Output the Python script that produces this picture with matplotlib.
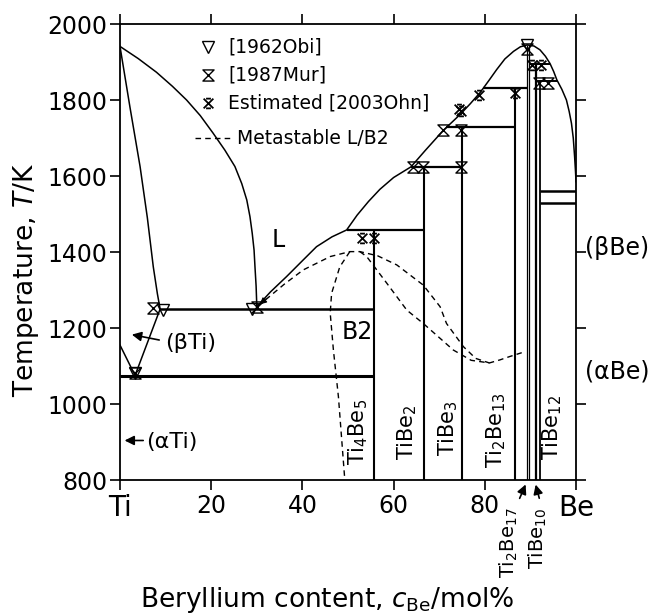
import numpy as np
import matplotlib.pyplot as plt
from matplotlib.path import Path

plt.rcParams['font.family'] = ['DejaVu Sans']
plt.rcParams['mathtext.fontset'] = 'dejavusans'

# stable phase boundaries, x = mol% Be, T = K
liq_ti_x = [0, 4.0, 8.0, 11.5, 14.6, 17.6, 20.4, 23.0, 25.2, 26.7, 27.8, 28.5, 29.0, 29.4, 29.6, 29.85, 30.0]
liq_ti_T = [1941, 1909, 1873, 1836, 1800, 1759, 1713, 1668, 1625, 1580, 1537, 1493, 1449, 1405, 1361, 1310, 1258]

sol_ti_x = [0, 2.2, 4.4, 6.0, 7.3, 8.2, 8.8]
sol_ti_T = [1941, 1780, 1625, 1490, 1361, 1290, 1250]

solvus_ti_x = [8.8, 3.3]
solvus_ti_T = [1250, 1075]

transus_ti_x = [0, 3.3]
transus_ti_T = [1155, 1075]

liq_x = [30.0, 33.0, 36.5, 40.0, 43.1, 46.5, 49.7, 52.0, 54.5, 57.0, 60.0, 63.8, 67.0, 70.9,
         74.6, 76.8, 79.0, 81.0, 82.6, 84.4, 86.3, 87.8, 89.3, 90.8, 92.1, 93.3, 94.3, 95.1,
         95.8, 96.9, 97.9, 98.5, 99.0, 99.4, 99.7, 99.9, 100]
liq_T = [1256, 1295, 1335, 1377, 1414, 1440, 1458, 1497, 1533, 1565, 1596, 1624, 1668, 1720,
         1762, 1790, 1820, 1853, 1880, 1908, 1928, 1940, 1945, 1942, 1932, 1915, 1896, 1875,
         1853, 1828, 1800, 1770, 1739, 1700, 1650, 1610, 1585]

# invariant lines: (x_start, x_end, T, linewidth)
invariants = [
    (0, 55.6, 1073, 2.2),
    (8.8, 55.6, 1250, 1.8),
    (49.7, 66.67, 1458, 1.6),
    (63.8, 75.0, 1624, 1.6),
    (71.6, 86.67, 1730, 1.6),
    (79.7, 89.3, 1832, 1.6),
    (89.8, 94.3, 1896, 1.4),
    (91.3, 95.9, 1850, 1.4),
    (92.2, 100, 1560, 1.8),
    (92.2, 100, 1528, 1.8),
]

# compounds: (x, top T, linewidth)
compounds = [
    (55.6, 1458, 1.5),
    (66.67, 1624, 1.5),
    (75.0, 1730, 1.5),
    (86.67, 1832, 1.5),
    (89.3, 1945, 0.9),
    (89.8, 1945, 0.9),
    (90.9, 1896, 0.9),
    (91.3, 1896, 0.9),
    (92.2, 1850, 1.3),
]

# metastable L/B2 (dashed)
meta_liq_x = [30.3, 31.4, 36.0, 40.2, 46.1, 50.4, 52.6, 56.5, 60.7, 66.5, 70.2, 71.6, 75.3, 78.0, 81.0]
meta_liq_T = [1258, 1269, 1315, 1353, 1388, 1401, 1401, 1390, 1366, 1313, 1256, 1212, 1151, 1120, 1108]
meta_sol_x = [52.6, 54.1, 58.5, 62.9, 66.5, 73.1, 77.0, 81.0, 83.3, 85.5, 88.1]
meta_sol_T = [1401, 1388, 1318, 1247, 1212, 1142, 1115, 1108, 1116, 1125, 1135]
meta_left_x = [50.4, 48.2, 46.4, 46.1, 46.8, 47.9, 49.3]
meta_left_T = [1401, 1361, 1291, 1239, 1142, 1019, 800]

# experimental points
obi_x = [3.3, 9.5, 28.9, 89.2]
obi_T = [1082, 1248, 1250, 1945]
mur_x = [3.3, 7.3, 30.0, 64.2, 66.5, 74.8, 70.9, 74.8, 89.2, 91.9, 93.9]
mur_T = [1082, 1252, 1256, 1625, 1625, 1625, 1722, 1722, 1933, 1845, 1845]
ohn_x = [53.0, 55.6, 74.4, 74.8, 78.7, 86.6, 90.4, 92.4]
ohn_T = [1438, 1438, 1776, 1772, 1813, 1818, 1891, 1891]

hourglass = Path([(-1, 1), (1, 1), (-1, -1), (1, -1), (-1, 1)],
                 [Path.MOVETO, Path.LINETO, Path.LINETO, Path.LINETO, Path.CLOSEPOLY])
estimated = Path([(-1, 1), (1, -1), (-1, -1), (1, 1), (-0.5, 1), (0.5, 1), (-0.5, -1), (0.5, -1)],
                 [Path.MOVETO, Path.LINETO, Path.MOVETO, Path.LINETO,
                  Path.MOVETO, Path.LINETO, Path.MOVETO, Path.LINETO])

fig = plt.figure(figsize=(6.54, 6.14), dpi=100)
ax = fig.add_axes([120 / 654, 1 - 480 / 614, 456 / 654, 456 / 614])

lw = 1.1
ax.plot(liq_ti_x, liq_ti_T, color='k', lw=lw)
ax.plot(sol_ti_x, sol_ti_T, color='k', lw=lw)
ax.plot(solvus_ti_x, solvus_ti_T, color='k', lw=lw)
ax.plot(transus_ti_x, transus_ti_T, color='k', lw=lw)
ax.plot(liq_x, liq_T, color='k', lw=lw)

for x0, x1, T, w in invariants:
    ax.plot([x0, x1], [T, T], color='k', lw=w, solid_capstyle='butt')
for x, T, w in compounds:
    ax.plot([x, x], [800, T], color='k', lw=w, solid_capstyle='butt')

dash = (0, (4, 3))
ax.plot(meta_liq_x, meta_liq_T, color='k', lw=1.0, ls=dash)
ax.plot(meta_sol_x, meta_sol_T, color='k', lw=1.0, ls=dash)
ax.plot(meta_left_x, meta_left_T, color='k', lw=1.0, ls=dash)
ax.annotate('', xy=(30.2, 1257), xytext=(32.5, 1282),
            arrowprops=dict(arrowstyle='-|>', color='k', lw=0.8, mutation_scale=10))

ax.plot(obi_x, obi_T, ls='none', marker='v', ms=8, mfc='none', mec='k', mew=1.0)
ax.plot(mur_x, mur_T, ls='none', marker=hourglass, ms=8, mfc='none', mec='k', mew=1.0)
ax.plot(ohn_x, ohn_T, ls='none', marker=estimated, ms=7, mfc='none', mec='k', mew=1.3)

# legend, drawn by hand
leg_fs = 13.5
ax.plot([19.3], [1940], ls='none', marker='v', ms=8, mfc='none', mec='k', mew=1.0)
ax.text(23.7, 1940, '[1962Obi]', fontsize=leg_fs, va='center')
ax.plot([19.3], [1866], ls='none', marker=hourglass, ms=8, mfc='none', mec='k', mew=1.0)
ax.text(23.7, 1866, '[1987Mur]', fontsize=leg_fs, va='center')
ax.plot([19.3], [1792], ls='none', marker=estimated, ms=7, mfc='none', mec='k', mew=1.3)
ax.text(23.7, 1792, 'Estimated [2003Ohn]', fontsize=leg_fs, va='center')
ax.plot([16.4, 24.3], [1700, 1700], color='k', lw=1.0, ls=dash)
ax.text(25.6, 1700, 'Metastable L/B2', fontsize=leg_fs, va='center')

# phase labels
ax.text(34.7, 1432, 'L', fontsize=17, ha='center', va='center')
ax.text(52.0, 1190, 'B2', fontsize=17, ha='center', va='center')
ax.text(9.9, 1160, '(βTi)', fontsize=16, ha='left', va='center')
ax.annotate('', xy=(2.0, 1184), xytext=(9.2, 1167),
            arrowprops=dict(arrowstyle='-|>', color='k', lw=1.2, mutation_scale=14))
ax.text(5.8, 901, '(αTi)', fontsize=16, ha='left', va='center')
ax.annotate('', xy=(0.4, 904), xytext=(5.7, 904),
            arrowprops=dict(arrowstyle='-|>', color='k', lw=1.2, mutation_scale=14))
ax.text(102, 1410, '(βBe)', fontsize=17, ha='left', va='center', clip_on=False)
ax.text(102, 1085, '(αBe)', fontsize=17, ha='left', va='center', clip_on=False)

comp_fs = 15
ax.text(52.2, 926, r'Ti$_4$Be$_5$', fontsize=comp_fs, rotation=90, ha='center', va='center')
ax.text(63.0, 926, r'TiBe$_2$', fontsize=comp_fs, rotation=90, ha='center', va='center')
ax.text(72.0, 937, r'TiBe$_3$', fontsize=comp_fs, rotation=90, ha='center', va='center')
ax.text(82.5, 932, r'Ti$_2$Be$_{13}$', fontsize=comp_fs, rotation=90, ha='center', va='center')
ax.text(94.8, 937, r'TiBe$_{12}$', fontsize=comp_fs, rotation=90, ha='center', va='center')

ax.text(85.3, 634, r'Ti$_2$Be$_{17}$', fontsize=14, rotation=90, ha='center', va='center',
        clip_on=False)
ax.annotate('', xy=(89.2, 795), xytext=(87.4, 745), annotation_clip=False,
            arrowprops=dict(arrowstyle='-|>', color='k', lw=1.2, mutation_scale=14))
ax.text(91.7, 647, r'TiBe$_{10}$', fontsize=14, rotation=90, ha='center', va='center',
        clip_on=False)
ax.annotate('', xy=(91.0, 795), xytext=(92.1, 745), annotation_clip=False,
            arrowprops=dict(arrowstyle='-|>', color='k', lw=1.2, mutation_scale=14))

ax.set_xlim(0, 100)
ax.set_ylim(800, 2000)
ax.set_xticks([0, 20, 40, 60, 80, 100])
ax.set_xticklabels(['Ti', '20', '40', '60', '80', 'Be'])
ax.set_yticks([800, 1000, 1200, 1400, 1600, 1800, 2000])
ax.tick_params(direction='out', length=7, width=1.2, top=True, right=True,
               labelsize=17, pad=2)
ax.tick_params(axis='x', pad=3)
for lab in ax.get_xticklabels():
    if lab.get_text() in ('Ti', 'Be'):
        lab.set_fontsize(20)
for sp in ax.spines.values():
    sp.set_linewidth(1.3)

fig.text(26 / 654, 1 - 280 / 614, r'Temperature, $T$/K', fontsize=19,
         rotation=90, ha='center', va='center')
fig.text(327 / 654, 1 - 600 / 614, r'Beryllium content, $c_{\rm Be}$/mol%', fontsize=19,
         ha='center', va='center')

fig.savefig('out.png', dpi=100)
